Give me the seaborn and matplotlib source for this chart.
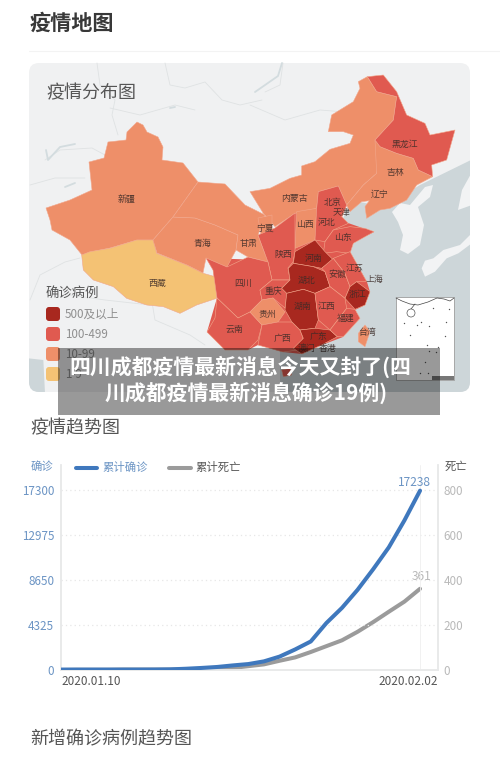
"""Epidemic map and cumulative trend panel, drawn on one tall figure."""

import matplotlib.pyplot as plt
import pandas as pd
import seaborn as sns
from matplotlib.patches import Ellipse, FancyBboxPatch, Polygon, Rectangle

sns.set_theme(style="white")
plt.rcParams["font.family"] = ["Noto Sans CJK SC", "DejaVu Sans"]

# ---------------------------------------------------------------------------
# Data
# ---------------------------------------------------------------------------

first_day = "2020-01-10"
last_day = "2020-02-02"
confirmed = [41, 41, 41, 41, 41, 41, 45, 62, 121, 198, 291, 440, 571, 830,
             1287, 1975, 2744, 4515, 5974, 7711, 9692, 11791, 14380, 17238]
deaths = [0, 1, 1, 1, 2, 2, 2, 2, 3, 4, 6, 9, 17, 25,
          41, 56, 80, 106, 132, 170, 213, 259, 304, 361]
confirmed_ticks = [0, 4325, 8650, 12975, 17300]
death_ticks = [0, 200, 400, 600, 800]

tier_labels = ["500及以上", "100-499", "10-99", "1-9"]
tier_colors = ["#a8281f", "#e05a50", "#ee8f69", "#f4c274"]

province_tier = {
    "新疆": 2, "西藏": 3, "青海": 2, "甘肃": 2, "宁夏": 2, "内蒙古": 2, "吉林": 2,
    "黑龙江": 1, "四川": 1, "重庆": 1, "云南": 1, "贵州": 2, "广西": 1, "陕西": 1,
    "山西": 2, "河北": 1, "山东": 1, "江苏": 1, "安徽": 1, "江西": 1, "福建": 1,
    "河南": 0, "湖北": 0, "湖南": 0, "广东": 0, "浙江": 0, "台湾": 2, "海南": 1,
}


# ---------------------------------------------------------------------------
# Map geometry (pixel positions on the 500x764 canvas)
# ---------------------------------------------------------------------------


def n_crop(pts):
    """Points read on the north-east part of the map."""
    return [(250 + x / 3, 60 + y / 3) for x, y in pts]


def s_crop(pts):
    """Points read on the south-east part of the map."""
    return [(250 + x / 3, 230 + y / 3) for x, y in pts]


def w_crop(pts):
    """Points read on the south-west part of the map."""
    return [(x / 3, 230 + y / 3) for x, y in pts]


SHAPES = {
    "新疆": [(137, 122), (143, 125), (147, 132), (158, 137), (163, 147), (162, 160),
           (183, 163), (198, 182), (173, 217), (153, 240), (137, 240), (110, 248),
           (90, 252), (82, 255), (70, 240), (52, 230), (50, 220), (46, 208), (70, 200),
           (92, 190), (89, 162), (104, 158), (108, 142), (126, 140), (127, 132)],
    "西藏": w_crop([(245, 75), (270, 65), (330, 55), (410, 30), (460, 30), (470, 70),
                  (560, 105), (610, 130), (645, 140), (650, 205), (590, 225), (540, 250),
                  (490, 230), (440, 225), (380, 205), (340, 170), (280, 150), (250, 120)]),
    "青海": [(153, 240), (157, 253), (187, 265), (203, 273), (206, 258), (227, 267),
           (236, 250), (238, 235), (215, 225), (195, 218), (173, 217)],
    "甘肃": [(173, 217), (198, 182), (225, 184), (245, 205), (265, 215), (258, 235),
           (268, 262), (248, 257), (236, 250), (238, 235), (215, 225), (195, 218)],
    "内蒙古": n_crop([(0, 395), (60, 385), (120, 355), (155, 345), (155, 318), (195, 305),
                   (240, 268), (300, 250), (310, 225), (280, 215), (235, 215), (245, 165),
                   (310, 125), (330, 85), (325, 65), (352, 50), (380, 95), (440, 110),
                   (430, 180), (375, 240), (390, 260), (380, 340), (340, 375), (290, 435),
                   (265, 378), (205, 395), (200, 445), (135, 460), (75, 500), (40, 460)]),
    "吉林": n_crop([(375, 240), (390, 260), (440, 280), (490, 295), (505, 330), (548, 350),
                  (500, 375), (470, 420), (420, 445), (390, 450), (350, 475), (345, 440),
                  (358, 422), (335, 425), (300, 455), (290, 435), (340, 375), (380, 340)]),
    "黑龙江": n_crop([(352, 50), (400, 45), (440, 95), (470, 165), (525, 190), (540, 225),
                   (615, 210), (590, 300), (545, 315), (548, 350), (505, 330), (490, 295),
                   (440, 280), (390, 260), (375, 240), (430, 180), (440, 110), (380, 95)]),
    "宁夏": [(258, 218), (272, 215), (272, 235), (262, 240)],
    "山西": n_crop([(140, 455), (200, 445), (195, 540), (135, 565)]),
    "河北": n_crop([(205, 395), (265, 378), (290, 435), (275, 470), (295, 490), (250, 510),
                  (225, 545), (195, 540), (200, 445)]),
    "山东": n_crop([(225, 545), (250, 510), (300, 500), (345, 505), (372, 515), (310, 550),
                  (300, 580), (260, 575), (220, 580)]),
    "陕西": [(275, 228), (295, 213), (295, 252), (293, 262), (288, 268), (290, 280),
           (272, 280), (268, 262), (258, 235)],
    "四川": [(206, 258), (227, 267), (248, 257), (268, 262), (272, 280), (260, 290),
           (262, 300), (250, 312), (238, 318), (217, 298), (213, 270)],
    "重庆": [(272, 280), (290, 280), (282, 288), (287, 293), (285, 308), (273, 298),
           (262, 300), (260, 290)],
    "云南": [(217, 298), (238, 318), (250, 312), (262, 325), (258, 340), (248, 350),
           (225, 350), (207, 332), (215, 318)],
    "贵州": [(262, 300), (273, 298), (285, 312), (278, 322), (262, 325), (250, 312)],
    "广西": [(262, 325), (278, 322), (292, 322), (300, 330), (303, 338), (298, 350),
           (283, 352), (258, 345)],
    "河南": s_crop([(195, 30), (225, 65), (250, 90), (215, 115), (190, 110), (130, 100),
                  (135, 65)]),
    "湖北": s_crop([(115, 115), (130, 100), (190, 110), (225, 125), (240, 170), (195, 190),
                  (160, 178), (110, 190), (95, 175), (120, 150)]),
    "湖南": s_crop([(110, 190), (160, 178), (195, 190), (205, 270), (195, 295), (150, 300),
                  (125, 275), (105, 240)]),
    "广东": s_crop([(150, 300), (195, 295), (240, 300), (262, 320), (215, 345), (155, 372),
                  (130, 355), (160, 325)]),
    "安徽": s_crop([(215, 115), (250, 85), (285, 130), (300, 170), (285, 205), (240, 170),
                  (225, 125)]),
    "江苏": s_crop([(250, 85), (275, 75), (300, 65), (325, 110), (350, 155), (320, 155),
                  (300, 170), (285, 130)]),
    "浙江": s_crop([(320, 155), (360, 185), (345, 225), (315, 238), (285, 205), (300, 170)]),
    "江西": s_crop([(195, 190), (240, 170), (285, 205), (290, 235), (240, 300), (205, 270)]),
    "福建": s_crop([(290, 235), (315, 238), (330, 265), (280, 320), (262, 320), (240, 300)]),
    "台湾": s_crop([(345, 285), (360, 305), (345, 350), (325, 335), (325, 310)]),
    "海南": s_crop([(95, 420), (120, 415), (125, 435), (100, 440)]),
}

# fills the seams between the eastern provinces
CORE = [(262, 260), (275, 228), (295, 213), (317, 208), (318, 192), (338, 186), (347, 205),
        (342, 217), (348, 223), (374, 232), (352, 243), (350, 252), (367, 282), (370, 292),
        (365, 305), (355, 310), (343, 337), (322, 345), (302, 354), (283, 352), (258, 345),
        (248, 350), (225, 350), (207, 332), (217, 298), (213, 270), (206, 258)]

SEA = [(350, 200), (385, 207), (420, 185), (471, 160), (471, 395), (280, 395), (280, 340),
       (330, 290), (335, 240)]
WEST_SEA = w_crop([(85, 385), (130, 390), (135, 490), (85, 490)])
KOREA = [(392, 212), (400, 203), (410, 205), (425, 187), (433, 185), (430, 197), (418, 207),
         (424, 225), (420, 245), (408, 254), (400, 250), (403, 235), (398, 222)]
JAPAN = s_crop([(525, 92), (550, 85), (580, 60), (630, 45), (665, 10), (665, 40), (625, 70),
                (590, 85), (555, 125), (525, 140), (515, 115)])
HOKKAIDO = [(462, 190), (472, 172), (472, 205), (458, 210)]

LAND_LINES = [
    [(97, 63), (100, 85), (115, 100), (112, 115), (118, 135)],
    [(165, 63), (170, 85), (185, 88), (205, 82), (222, 100), (240, 105), (262, 100)],
    [(45, 160), (60, 150), (92, 148), (105, 155)],
    [(30, 185), (55, 178), (85, 178)],
    [(250, 105), (285, 120), (320, 110), (345, 112)],
    [(110, 108), (140, 115), (175, 105), (195, 110)],
    [(30, 300), (40, 275), (65, 262), (80, 258)],
    [(150, 290), (155, 320), (190, 335), (205, 345)],
    [(70, 295), (105, 300), (150, 305)],
    [(283, 63), (280, 85), (265, 92)],
]
WATER_LINES = [
    [(46, 150), (48, 160), (60, 147), (75, 144)],
    [(65, 187), (75, 183)],
    [(282, 63), (278, 76), (255, 92)],
    [(170, 108), (175, 107)],
]

PROVINCE_LABELS = [
    ("新疆", 126, 199), ("西藏", 157, 283), ("青海", 202, 243), ("甘肃", 248, 243),
    ("四川", 243, 283), ("云南", 234, 329), ("内蒙古", 294, 198), ("黑龙江", 405, 144),
    ("吉林", 395, 172), ("辽宁", 380, 194), ("北京", 333, 203), ("天津", 341, 213),
    ("山西", 305, 224), ("河北", 327, 223), ("宁夏", 265, 228), ("山东", 343, 237),
    ("陕西", 283, 254), ("河南", 314, 258), ("湖北", 307, 280), ("安徽", 337, 274),
    ("江苏", 355, 268), ("上海", 374, 279), ("浙江", 358, 294), ("重庆", 273, 292),
    ("湖南", 303, 306), ("江西", 327, 306), ("贵州", 267, 314), ("福建", 346, 318),
    ("广西", 282, 338), ("广东", 318, 336), ("台湾", 367, 333), ("澳门", 307, 349),
    ("香港", 328, 349),
]


# ---------------------------------------------------------------------------
# Drawing
# ---------------------------------------------------------------------------


def draw_map(ax):
    """Card with the provinces, the colour key and the inset."""
    card = FancyBboxPatch((39, 73), 421, 309, boxstyle="round,pad=10,rounding_size=10",
                          facecolor="#f0f1f2", edgecolor="none")
    ax.add_patch(card)

    for shape in [SEA, WEST_SEA]:
        patch = Polygon(shape, facecolor="#cdd6d9", edgecolor="none")
        ax.add_patch(patch)
        patch.set_clip_path(card)
    for shape in [KOREA, JAPAN, HOKKAIDO]:
        patch = Polygon(shape, facecolor="#f2f3f4", edgecolor="none")
        ax.add_patch(patch)
        patch.set_clip_path(card)
    for line in LAND_LINES:
        xs, ys = zip(*line)
        ax.plot(xs, ys, color="#dfe2e3", lw=0.6, zorder=1)
    for line in WATER_LINES:
        xs, ys = zip(*line)
        ax.plot(xs, ys, color="#d3dcdf", lw=1.3, zorder=1)

    ax.add_patch(Polygon(CORE, facecolor=tier_colors[1], edgecolor="none", zorder=2))
    for name, shape in SHAPES.items():
        color = tier_colors[province_tier[name]]
        ax.add_patch(Polygon(shape, facecolor=color, edgecolor="#f2a78c", lw=0.4,
                             joinstyle="round", zorder=2))

    for name, x, y in PROVINCE_LABELS:
        ax.text(x, y, name, fontsize=6.4, fontweight="medium", color="#3b2b27", alpha=0.85,
                ha="center", va="center", zorder=3)

    ax.text(46, 93, "疫情分布图", fontsize=13, color="#555555", va="center", zorder=3)
    ax.text(46, 293, "确诊病例", fontsize=9.6, color="#555555", va="center", zorder=3)
    for i, (label, color) in enumerate(zip(tier_labels, tier_colors)):
        top = 307 + i * 20
        ax.add_patch(FancyBboxPatch((48, top + 2), 10, 10,
                                    boxstyle="round,pad=2,rounding_size=3",
                                    facecolor=color, edgecolor="none", zorder=3))
        ax.text(65, top + 7, label, fontsize=8.4, color="#8f8f8f", va="center", zorder=3)

    # inset for the southern sea
    ax.add_patch(Rectangle((396, 297), 58, 83, facecolor="white", edgecolor="#8d8d8d",
                           lw=0.5, zorder=3))
    ax.plot([396, 402, 410, 418, 428, 437, 444, 450, 454],
            [298, 301, 304, 305, 302, 298, 299, 301, 298], color="#444444", lw=0.5, zorder=4)
    ax.plot([415, 411, 408], [304, 309, 312], color="#444444", lw=0.5, zorder=4)
    ax.add_patch(Ellipse((411, 313), 8, 8, facecolor="white", edgecolor="#555555", lw=0.5,
                         zorder=4))
    ax.scatter([404, 417, 421, 429, 433, 410, 427, 429, 438, 445, 446, 449, 436, 425, 420, 428],
               [323, 325, 322, 326, 308, 335, 345, 351, 347, 336, 322, 309, 352, 362, 373, 373],
               s=1, color="#555555", linewidths=0, zorder=4)
    ax.add_patch(Rectangle((432, 376), 22, 4, facecolor="#777777", edgecolor="none", zorder=4))


def draw_trend(fig):
    """Cumulative confirmed and deaths on their two value axes."""
    days = pd.date_range(first_day, last_day)
    df = pd.DataFrame({"day": days, "confirmed": confirmed, "deaths": deaths})

    # one day is about 15.6 px, the frame runs on a little past the last point
    pad = pd.Timedelta(days=1.15)
    ax = fig.add_axes([61 / 500, 1 - 670 / 764, 377 / 500, 205 / 764])
    ax.patch.set_alpha(0)
    ax2 = ax.twinx()

    sns.lineplot(data=df, x="day", y="deaths", ax=ax2, color="#9b9b9b", lw=2.9,
                 solid_capstyle="round", errorbar=None)
    sns.lineplot(data=df, x="day", y="confirmed", ax=ax, color="#3f78bd", lw=2.9,
                 solid_capstyle="round", errorbar=None, zorder=5)
    ax.set_zorder(ax2.get_zorder() + 1)

    ax.set_xlim(days[0], days[-1] + pad)
    ax.set_ylim(0, confirmed_ticks[-1] * 205 / 180)
    ax2.set_ylim(0, death_ticks[-1] * 205 / 180)
    ax.set_yticks(confirmed_ticks)
    ax2.set_yticks(death_ticks)
    ax.set_xticks([])
    for a in (ax, ax2):
        a.set_xlabel("")
        a.set_ylabel("")
        a.grid(False)
    ax.tick_params(axis="y", length=0, pad=5, labelsize=8.4, labelcolor="#6b94c4")
    ax2.tick_params(axis="y", length=0, pad=4, labelsize=8.4, labelcolor="#b9b9b9")

    for tick in confirmed_ticks[1:]:
        ax.axhline(tick, color="#e7e7e7", lw=0.9, ls=(0, (1, 2.5)), zorder=0)
    ax.axvline(days[-1], color="#efefef", lw=0.6, zorder=0)

    for a in (ax, ax2):
        a.spines["top"].set_visible(False)
        for side in ("left", "right", "bottom"):
            a.spines[side].set_color("#e8e9ea")
            a.spines[side].set_linewidth(1.1)

    ax.annotate("2020.01.10", (0, 0), xycoords="axes fraction", xytext=(0, -8),
                textcoords="offset points", ha="left", va="center", fontsize=8.5, color="#555555")
    ax.annotate("2020.02.02", (1, 0), xycoords="axes fraction", xytext=(0, -8),
                textcoords="offset points", ha="right", va="center", fontsize=8.5, color="#555555")

    ax.annotate(str(confirmed[-1]), (days[-1], confirmed[-1]), xytext=(8, 6),
                textcoords="offset points", ha="right", va="center", fontsize=8.6,
                color="#6b94c4")
    ax2.annotate(str(deaths[-1]), (days[-1], deaths[-1]), xytext=(8, 9),
                 textcoords="offset points", ha="right", va="center", fontsize=8.6,
                 color="#b9b9b9")


def main():
    fig = plt.figure(figsize=(5, 7.64), dpi=100, facecolor="white")
    canvas = fig.add_axes([0, 0, 1, 1])
    canvas.set_xlim(0, 500)
    canvas.set_ylim(764, 0)
    canvas.axis("off")

    canvas.text(30, 23, "疫情地图", fontsize=15.2, fontweight="bold", color="#383838", va="center")
    canvas.plot([29, 500], [51, 51], color="#f3f3f3", lw=0.8)
    draw_map(canvas)

    # banner laid over the bottom of the map
    canvas.add_patch(Rectangle((58, 348), 382, 67, facecolor="black", alpha=0.4,
                               edgecolor="none", zorder=6))
    canvas.text(240, 367, "四川成都疫情最新消息今天又封了(四", fontsize=15, fontweight="bold",
                color="white", ha="center", va="center", zorder=7)
    canvas.text(246, 393, "川成都疫情最新消息确诊19例)", fontsize=15, fontweight="bold",
                color="white", ha="center", va="center", zorder=7)

    canvas.text(30, 428, "疫情趋势图", fontsize=13, fontweight="medium", color="#555555", va="center")
    canvas.text(30, 739, "新增确诊病例趋势图", fontsize=13, fontweight="medium", color="#555555",
                va="center")

    # series key and axis names above the trend panel
    canvas.text(31, 467, "确诊", fontsize=8.2, color="#6b94c4", va="center")
    canvas.plot([76, 97], [467.5, 467.5], color="#3f78bd", lw=2.9, solid_capstyle="round")
    canvas.text(102, 467, "累计确诊", fontsize=8.2, color="#6b94c4", va="center")
    canvas.plot([169, 191], [467.5, 467.5], color="#9b9b9b", lw=2.9, solid_capstyle="round")
    canvas.text(195, 467, "累计死亡", fontsize=8.2, color="#555555", va="center")
    canvas.text(445, 467, "死亡", fontsize=8.2, color="#555555", va="center")

    draw_trend(fig)
    fig.savefig("out.png", dpi=100)


if __name__ == "__main__":
    main()
